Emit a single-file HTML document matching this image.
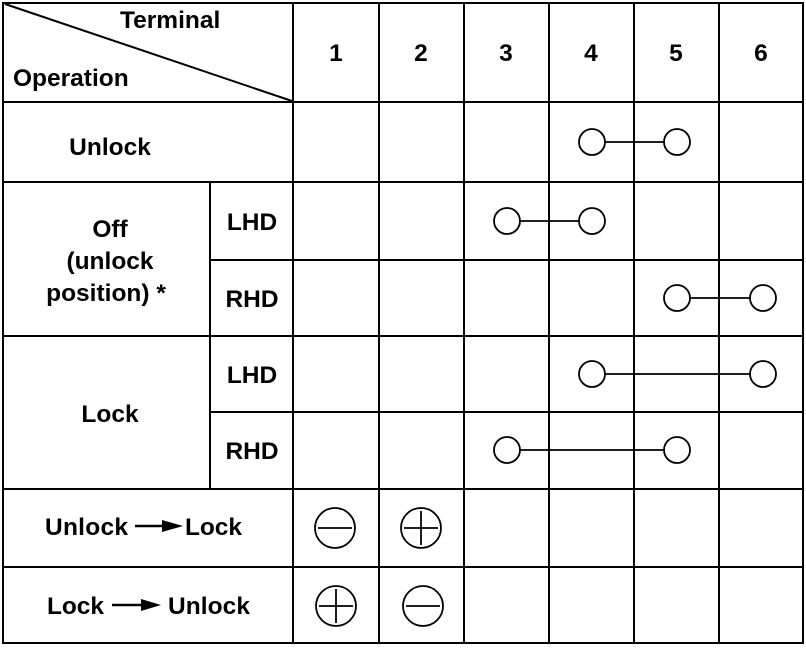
<!DOCTYPE html>
<html><head><style>body{margin:0;background:#fff}svg{display:block}text{font-family:"Liberation Sans",Arial,sans-serif;font-weight:bold;font-size:24.5px;fill:#000}</style></head><body>
<svg width="806" height="648" viewBox="0 0 806 648" xmlns="http://www.w3.org/2000/svg">
<g stroke="#000" stroke-width="2" fill="none">
<rect x="3" y="3" width="800" height="640"/>
<line x1="293" y1="3" x2="293" y2="643"/>
<line x1="379" y1="3" x2="379" y2="643"/>
<line x1="464" y1="3" x2="464" y2="643"/>
<line x1="549" y1="3" x2="549" y2="643"/>
<line x1="634" y1="3" x2="634" y2="643"/>
<line x1="719" y1="3" x2="719" y2="643"/>
<line x1="210" y1="182" x2="210" y2="489"/>
<line x1="3" y1="102" x2="803" y2="102"/>
<line x1="3" y1="182" x2="803" y2="182"/>
<line x1="210" y1="260" x2="803" y2="260"/>
<line x1="3" y1="336" x2="803" y2="336"/>
<line x1="210" y1="412" x2="803" y2="412"/>
<line x1="3" y1="489" x2="803" y2="489"/>
<line x1="3" y1="567" x2="803" y2="567"/>
<line x1="5" y1="4" x2="292" y2="101"/>
</g>
<g stroke="#000" stroke-width="1.8" fill="#fff">
<line x1="592" y1="142" x2="677" y2="142"/><circle cx="592" cy="142" r="13"/><circle cx="677" cy="142" r="13"/>
<line x1="507" y1="221" x2="592" y2="221"/><circle cx="507" cy="221" r="13"/><circle cx="592" cy="221" r="13"/>
<line x1="677" y1="298" x2="763" y2="298"/><circle cx="677" cy="298" r="13"/><circle cx="763" cy="298" r="13"/>
<line x1="592" y1="374" x2="763" y2="374"/><circle cx="592" cy="374" r="13"/><circle cx="763" cy="374" r="13"/>
<line x1="507" y1="450" x2="677" y2="450"/><circle cx="507" cy="450" r="13"/><circle cx="677" cy="450" r="13"/>
<circle cx="335" cy="528" r="20"/><line x1="318" y1="528" x2="352" y2="528"/>
<circle cx="421" cy="528" r="20"/><line x1="404" y1="528" x2="438" y2="528"/><line x1="421" y1="511" x2="421" y2="545"/>
<circle cx="336" cy="606" r="20"/><line x1="319" y1="606" x2="353" y2="606"/><line x1="336" y1="589" x2="336" y2="623"/>
<circle cx="423" cy="606" r="20"/><line x1="406" y1="606" x2="440" y2="606"/>
</g>
<text x="120" y="28">Terminal</text>
<text x="13" y="86">Operation</text>
<g text-anchor="middle">
<text x="336" y="61">1</text><text x="421" y="61">2</text><text x="506" y="61">3</text>
<text x="591" y="61">4</text><text x="676" y="61">5</text><text x="761" y="61">6</text>
<text x="110" y="155">Unlock</text>
<text x="110" y="237">Off</text>
<text x="110" y="269">(unlock</text>
<text x="106" y="301">position) *</text>
<text x="110" y="422">Lock</text>
<text x="252" y="230">LHD</text><text x="252" y="307">RHD</text>
<text x="252" y="383">LHD</text><text x="252" y="459">RHD</text>
</g>
<text x="45" y="535" textLength="83">Unlock</text>
<line x1="135" y1="526" x2="166" y2="526" stroke="#000" stroke-width="2.5"/>
<polygon points="162,520 183,526 162,532" fill="#000"/>
<text x="185" y="535" textLength="57">Lock</text>
<text x="47" y="614" textLength="57">Lock</text>
<line x1="112" y1="605" x2="145" y2="605" stroke="#000" stroke-width="2.5"/>
<polygon points="141,599 161,605 141,611" fill="#000"/>
<text x="168" y="614" textLength="82">Unlock</text>
</svg>
</body></html>
